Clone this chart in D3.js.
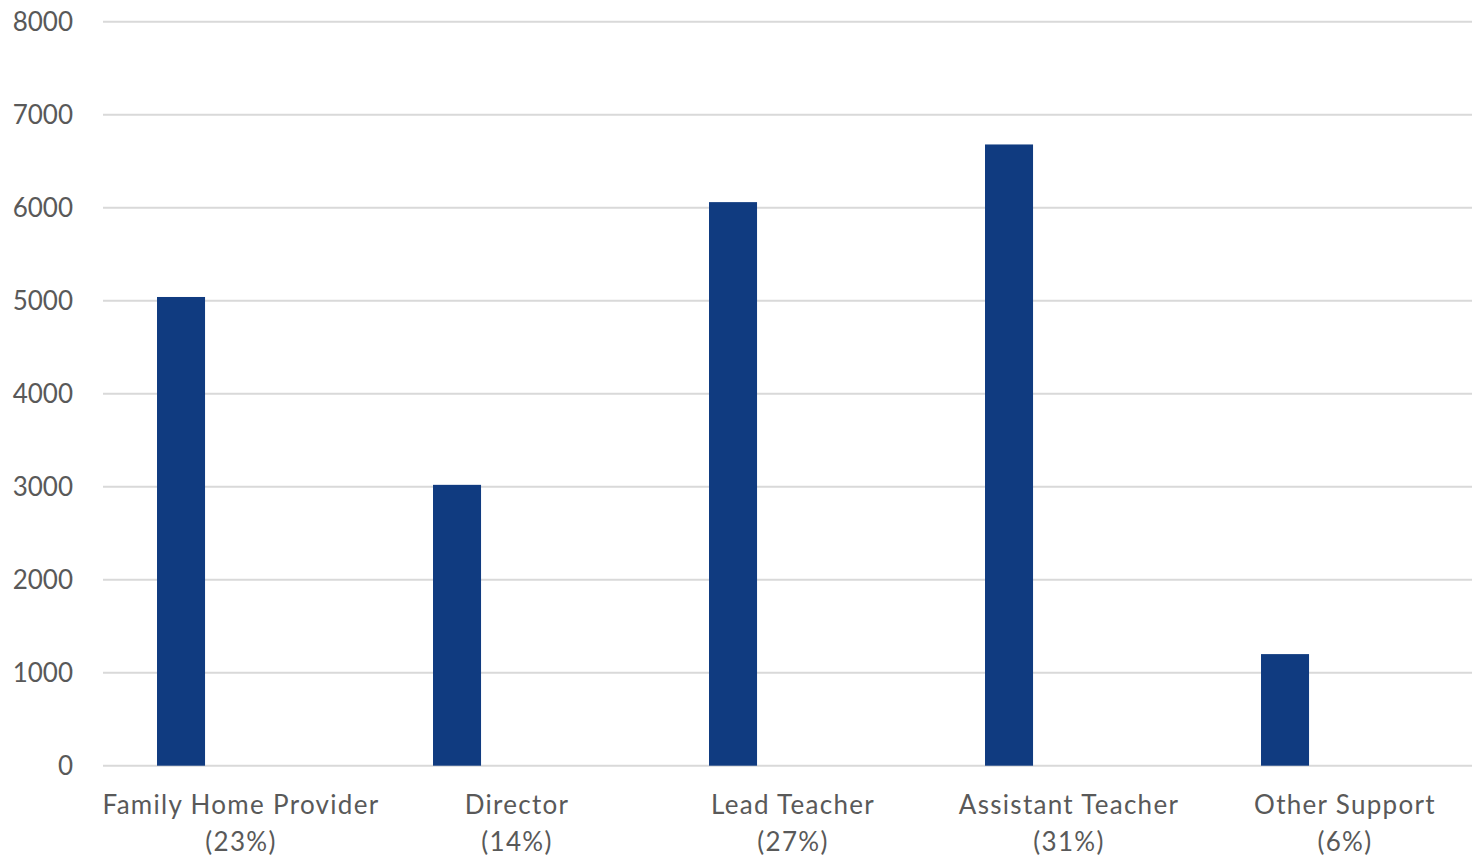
<!DOCTYPE html>
<meta charset="utf-8">
<style>
body { margin: 0; background: #fff; }
.axis text { fill: #595959; font: 26px Lato, "Open Sans", sans-serif; }
.xlab text { letter-spacing: 1.3px; }
.grid line { stroke: #d9d9d9; stroke-width: 2; }
.bar { fill: #103b80; }
</style>
<svg width="1472" height="858"></svg>
<script src="https://d3js.org/d3.v7.min.js"></script>
<script>

var categories = ["Family Home Provider", "Director", "Lead Teacher", "Assistant Teacher", "Other Support"];
var shares = ["(23%)", "(14%)", "(27%)", "(31%)", "(6%)"];
var counts = [5040, 3020, 6060, 6680, 1200];
var yTicks = [0, 1000, 2000, 3000, 4000, 5000, 6000, 7000, 8000];

var svg = d3.select("svg"),
    margin = {top: 21.7, left: 103, bottom: 765.7},
    bandW = 276;

var x = d3.scaleBand()
    .domain(categories)
    .range([margin.left, margin.left + bandW * categories.length])
    .padding(0);

var y = d3.scaleLinear()
    .domain([0, 8000])
    .range([margin.bottom, margin.top]);

// gridlines
svg.append("g")
    .attr("class", "grid")
    .selectAll("line")
    .data(yTicks)
  .enter().append("line")
    .attr("x1", margin.left)
    .attr("x2", 1472)
    .attr("y1", function(d) { return y(d); })
    .attr("y2", function(d) { return y(d); });

// y labels
var yAxis = svg.append("g")
    .attr("class", "axis")
    .attr("transform", "translate(73,0)")
    .call(d3.axisLeft(y).tickValues(yTicks).tickSize(0).tickPadding(0).tickFormat(d3.format("d")));
yAxis.select(".domain").remove();

// bars
svg.selectAll(".bar")
    .data(counts)
  .enter().append("rect")
    .attr("class", "bar")
    .attr("x", function(d, i) { return x(categories[i]) + x.bandwidth() * 0.1957; })
    .attr("width", x.bandwidth() * 0.174)
    .attr("y", function(d) { return y(d); })
    .attr("height", function(d) { return y(0) - y(d); });

// x labels, two lines
var lab = svg.append("g")
    .attr("class", "axis xlab")
    .selectAll("text")
    .data(categories)
  .enter().append("text")
    .attr("text-anchor", "middle")
    .attr("x", function(d) { return x(d) + x.bandwidth() / 2; })
    .attr("y", 814);
lab.append("tspan").text(function(d) { return d; });
lab.append("tspan")
    .attr("x", function(d) { return x(d) + x.bandwidth() / 2; })
    .attr("dy", 37)
    .text(function(d, i) { return shares[i]; });

</script>
